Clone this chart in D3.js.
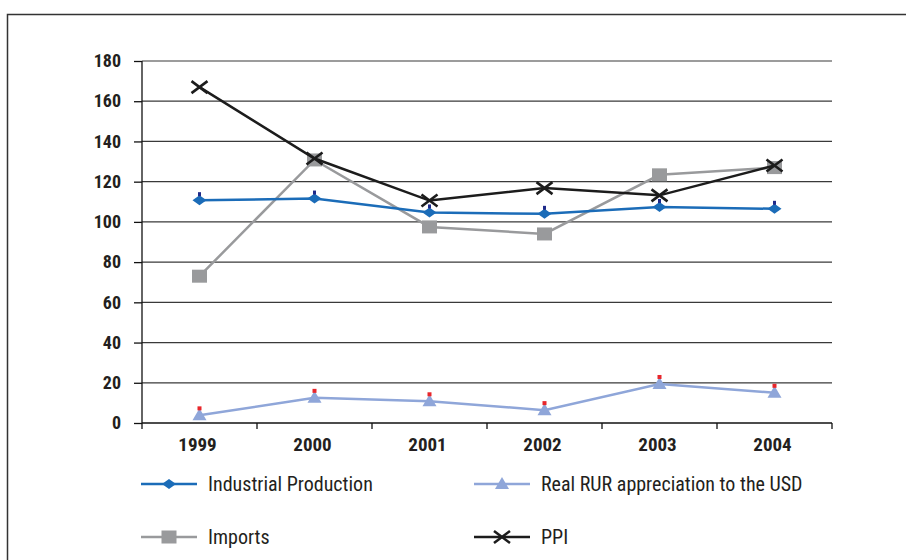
<!DOCTYPE html>
<html>
<head>
<meta charset="utf-8">
<script src="https://cdn.jsdelivr.net/npm/d3@7"></script>
<style>
  body { margin: 0; background: #fff; }
  svg { display: block; }
  .tick text { font-family: "Liberation Sans Narrow", "Roboto Condensed", Roboto, sans-serif; font-weight: bold; }
  .legend text { font-family: "Liberation Sans Narrow", "Roboto Condensed", Roboto, sans-serif; }
</style>
</head>
<body>
<div id="main"></div>
<script>
let years = ["1999", "2000", "2001", "2002", "2003", "2004"]
let industrial = [110.8, 111.6, 104.7, 104.0, 107.4, 106.5]
let imports = [73.0, 130.8, 97.5, 94.0, 123.4, 127.0]
let ppi = [167.0, 131.5, 110.6, 116.8, 113.2, 128.0]
let rur = [3.8, 12.5, 10.8, 6.4, 19.4, 15.0]
let yTicks = [0, 20, 40, 60, 80, 100, 120, 140, 160, 180]

let width = 906
let height = 560
let plotLeft = 142, plotRight = 832, plotTop = 61, plotBottom = 423

let svg = d3.select("#main").append("svg")
            .attr("width", width)
            .attr("height", height)

// outer frame
svg.append("rect")
   .attr("x", 7.5).attr("y", 14.5)
   .attr("width", 1000).attr("height", 1000)
   .attr("fill", "none").attr("stroke", "#333").attr("stroke-width", 1.5)

const xScale = d3.scaleBand().domain(years).range([plotLeft, plotRight])
const yScale = d3.scaleLinear().domain([0, 180]).range([plotBottom, plotTop])

// grid
svg.append("g").selectAll("line")
   .data(yTicks.slice(1))
   .enter().append("line")
   .attr("x1", plotLeft).attr("x2", plotRight)
   .attr("y1", d => yScale(d)).attr("y2", d => yScale(d))
   .attr("stroke", "#3a3a3a").attr("stroke-width", 1.2)

let yAxis = d3.axisLeft(yScale).tickValues(yTicks).tickSize(8).tickPadding(13)
svg.append("g")
   .attr("transform", `translate(${plotLeft},0)`)
   .call(yAxis)
   .call(g => g.selectAll("path, line").attr("stroke", "#111").attr("stroke-width", 1.3))
   .call(g => g.selectAll("text").attr("font-size", 18).attr("fill", "#231f20"))
   .call(g => g.select(".domain").attr("d", `M0,${plotTop}V${plotBottom}`))

// x axis: ticks at band boundaries
let xg = svg.append("g").attr("transform", `translate(0,${plotBottom})`)
xg.append("line").attr("x1", plotLeft).attr("x2", plotRight)
  .attr("stroke", "#111").attr("stroke-width", 1.3)
let bounds = years.map(y => xScale(y)).concat([plotRight])
xg.selectAll(".xt").data(bounds).enter().append("line")
  .attr("x1", d => d).attr("x2", d => d).attr("y1", 0).attr("y2", 6)
  .attr("stroke", "#111").attr("stroke-width", 1.3)
xg.selectAll(".tick").data(years).enter().append("g").attr("class", "tick")
  .append("text")
  .attr("x", d => xScale(d) + xScale.bandwidth() / 2 - 2)
  .attr("y", 28)
  .attr("text-anchor", "middle")
  .attr("font-size", 19).attr("fill", "#231f20")
  .text(d => d)

const cx = d => xScale(d) + xScale.bandwidth() / 2

let series = [
  { name: "Industrial Production", values: industrial, color: "#1b6cb8", marker: "diamond" },
  { name: "Real RUR appreciation to the USD", values: rur, color: "#8fa6d9", marker: "triangle" },
  { name: "Imports", values: imports, color: "#999a9c", marker: "square" },
  { name: "PPI", values: ppi, color: "#1c1c1c", marker: "cross" }
]

function drawMarker (g, type, color, x, y) {
  if (type === "diamond") {
    g.append("path").attr("d", `M${x - 7},${y} L${x},${y - 5} L${x + 7},${y} L${x},${y + 5} Z`).attr("fill", color)
  } else if (type === "triangle") {
    g.append("path").attr("d", `M${x - 7},${y + 5} L${x},${y - 7} L${x + 7},${y + 5} Z`).attr("fill", color)
  } else if (type === "square") {
    g.append("rect").attr("x", x - 7.5).attr("y", y - 6.5).attr("width", 15).attr("height", 13).attr("fill", color)
  } else {
    g.append("path").attr("d", `M${x - 8},${y - 6} L${x + 8},${y + 6} M${x - 8},${y + 6} L${x + 8},${y - 6}`)
     .attr("stroke", color).attr("stroke-width", 2.6).attr("fill", "none")
  }
}

let drawOrder = [2, 0, 1, 3]
let line = d3.line().x((d, i) => cx(years[i])).y(d => yScale(d))
drawOrder.forEach(k => {
  let s = series[k]
  let g = svg.append("g")
  g.append("path").datum(s.values).attr("d", line)
   .attr("fill", "none").attr("stroke", s.color).attr("stroke-width", 2.5)
  s.values.forEach((v, i) => {
    drawMarker(g, s.marker, s.color, cx(years[i]), yScale(v))
    // small extra marks above points, as in the source
    if (s.marker === "diamond") {
      g.append("rect").attr("x", cx(years[i]) - 1.5).attr("y", yScale(v) - 8)
       .attr("width", 3).attr("height", 4).attr("fill", "#1f2a8a")
    }
    if (s.marker === "triangle") {
      g.append("rect").attr("x", cx(years[i]) - 2).attr("y", yScale(v) - 9)
       .attr("width", 4).attr("height", 4).attr("fill", "#e8262b")
    }
  })
})

// legend
let legendPos = [
  { x: 141, y: 484 }, { x: 474, y: 484 },
  { x: 141, y: 537 }, { x: 474, y: 537 }
]
let legend = svg.append("g").attr("class", "legend")
series.forEach((s, i) => {
  let p = legendPos[i]
  let g = legend.append("g")
  g.append("line").attr("x1", p.x).attr("x2", p.x + 56).attr("y1", p.y).attr("y2", p.y)
   .attr("stroke", s.color).attr("stroke-width", 2.5)
  drawMarker(g, s.marker, s.color, p.x + 28, p.y)
  g.append("text").attr("x", p.x + 67).attr("y", p.y + 7)
   .attr("font-size", 20).attr("fill", "#231f20").text(s.name)
})
</script>
</body>
</html>
